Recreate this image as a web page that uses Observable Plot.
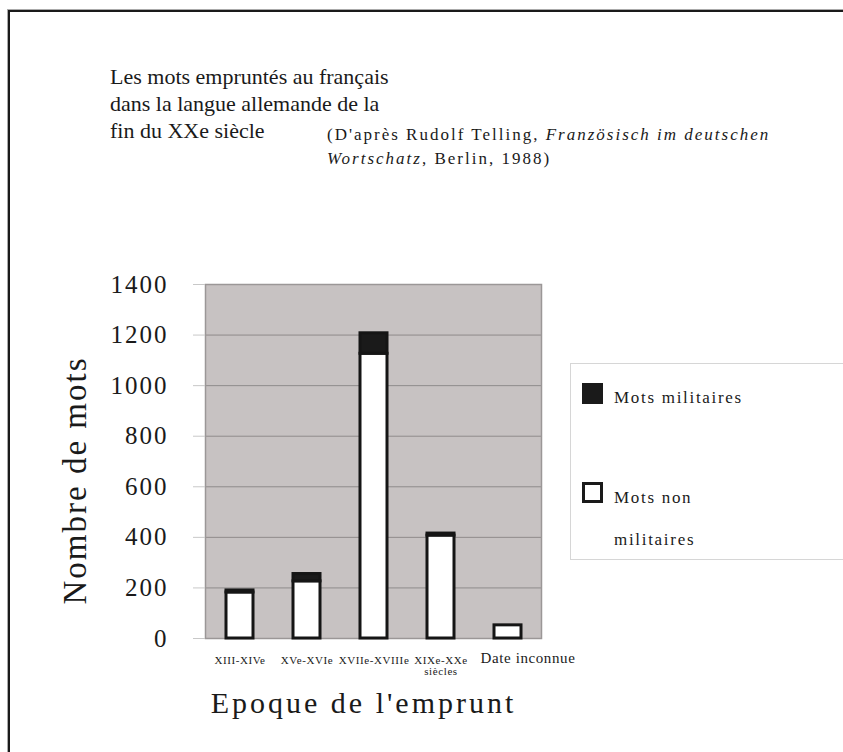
<!DOCTYPE html>
<html>
<head>
<meta charset="utf-8">
<script src="https://cdn.jsdelivr.net/npm/d3@7"></script>
<script src="https://cdn.jsdelivr.net/npm/@observablehq/plot@0.6"></script>
<style>
  html, body { margin: 0; padding: 0; background: #fff; overflow: hidden; }
  #wrap { position: relative; width: 843px; height: 752px; overflow: hidden; font-family: "Liberation Serif", "DejaVu Serif", serif; color: #1a1a1a; }
  #border { position: absolute; left: 8px; top: 10px; width: 900px; height: 800px; border-left: 2px solid #1a1a1a; border-top: 2px solid #1a1a1a; box-shadow: -1px -1px 0 #aaa; }
  #header { position: relative; height: 180px; }
  #title { position: absolute; left: 110px; top: 63px; font-family: "Liberation Serif", serif; font-size: 22px; line-height: 27px; }
  #subtitle { position: absolute; left: 327px; top: 123px; font-family: "Liberation Serif", serif; font-size: 17px; line-height: 24px; letter-spacing: 2px; white-space: nowrap; }
  #legend { position: absolute; left: 570px; top: 363px; width: 290px; height: 195px; border: 1px solid #d6d6d6; background: #fff; font-family: "Liberation Serif", serif; font-size: 17px; letter-spacing: 1.7px; }
  .sw { position: absolute; left: 11px; width: 21px; height: 21px; box-sizing: border-box; }
  .lt { position: absolute; left: 43px; white-space: nowrap; }
  svg g[aria-label="y-axis tick label"] text { letter-spacing: 2px; }
  svg g[aria-label="x-axis tick label"] text { letter-spacing: 0.6px; }
</style>
</head>
<body>
<div id="wrap">
  <div id="border"></div>
  <div id="header">
    <div id="title">Les mots empruntés au français<br>dans la langue allemande de la<br>fin du XXe siècle</div>
    <div id="subtitle">(D'après Rudolf Telling, <i>Französisch im deutschen<br>Wortschatz</i>, Berlin, 1988)</div>
  </div>
  <div id="chart"></div>
  <div id="legend">
    <div class="sw" style="top:19px;background:#1a1a1a;"></div>
    <div class="lt" style="top:24px;">Mots militaires</div>
    <div class="sw" style="top:118px;background:#fff;border:3px solid #1a1a1a;"></div>
    <div class="lt" style="top:124px;">Mots non</div>
    <div class="lt" style="top:166px;">militaires</div>
  </div>
</div>
<script>
const periods = ["XIII-XIVe", "XVe-XVIe", "XVIIe-XVIIIe", "XIXe-XXe\nsiècles", "Date inconnue"];
const nonMilitary = [182, 226, 1126, 407, 52];
const military = [8, 29, 81, 8, 0];
const yTicks = [0, 200, 400, 600, 800, 1000, 1200, 1400];
const seriesNames = ["Mots non militaires", "Mots militaires"];
const yTitle = "Nombre de mots";
const xTitle = "Epoque de l'emprunt";

const rows = [];
periods.forEach((p, i) => {
  rows.push({period: p, type: seriesNames[0], value: nonMilitary[i]});
  if (military[i] > 0) rows.push({period: p, type: seriesNames[1], value: military[i]});
});

const chart = Plot.plot({
  width: 843,
  height: 572,
  marginLeft: 205,
  marginRight: 302,
  marginTop: 104,
  marginBottom: 114,
  style: {fontFamily: "Liberation Serif, serif", color: "#1a1a1a", background: "transparent"},
  x: {domain: periods, paddingInner: 0.6, paddingOuter: 0.3, label: null},
  y: {domain: [0, 1400], label: null},
  color: {domain: seriesNames, range: ["#ffffff", "#1a1a1a"]},
  marks: [
    Plot.frame({fill: "#c7c2c2", stroke: null}),
    Plot.gridY(yTicks, {stroke: "#8f8b8b", strokeOpacity: 1, strokeWidth: 1}),
    Plot.frame({stroke: "#9b9797", strokeWidth: 1.5}),
    Plot.axisY(yTicks, {tickSize: 12, tickPadding: 25, fontSize: 25, stroke: "#c8c8c8", color: "#1a1a1a", tickFormat: d => String(d), label: null}),
    Plot.axisX(periods.slice(0, 4), {tickSize: 0, tickPadding: 17, fontSize: 11, lineHeight: 1.05, label: null}),
    Plot.axisX(periods.slice(4), {tickSize: 0, tickPadding: 14, fontSize: 15, dx: 20, label: null}),
    Plot.barY(rows, {x: "period", y: "value", fill: "type", stroke: "#151515", strokeWidth: 3, order: seriesNames}),
    Plot.text([yTitle], {frameAnchor: "left", textAnchor: "middle", lineAnchor: "middle", rotate: -90, dx: -130, dy: 19, fontSize: 33, fill: "#1a1a1a"}),
    Plot.text([xTitle], {frameAnchor: "bottom", lineAnchor: "middle", dx: -10, dy: 65, fontSize: 30, fill: "#1a1a1a"})
  ]
});
d3.select(chart).selectAll("text")
  .filter(function() { return this.textContent === xTitle; })
  .style("letter-spacing", "3px");
d3.select(chart).selectAll("text")
  .filter(function() { return this.textContent === yTitle; })
  .style("letter-spacing", "2px");
document.getElementById("chart").appendChild(chart);
</script>
</body>
</html>
